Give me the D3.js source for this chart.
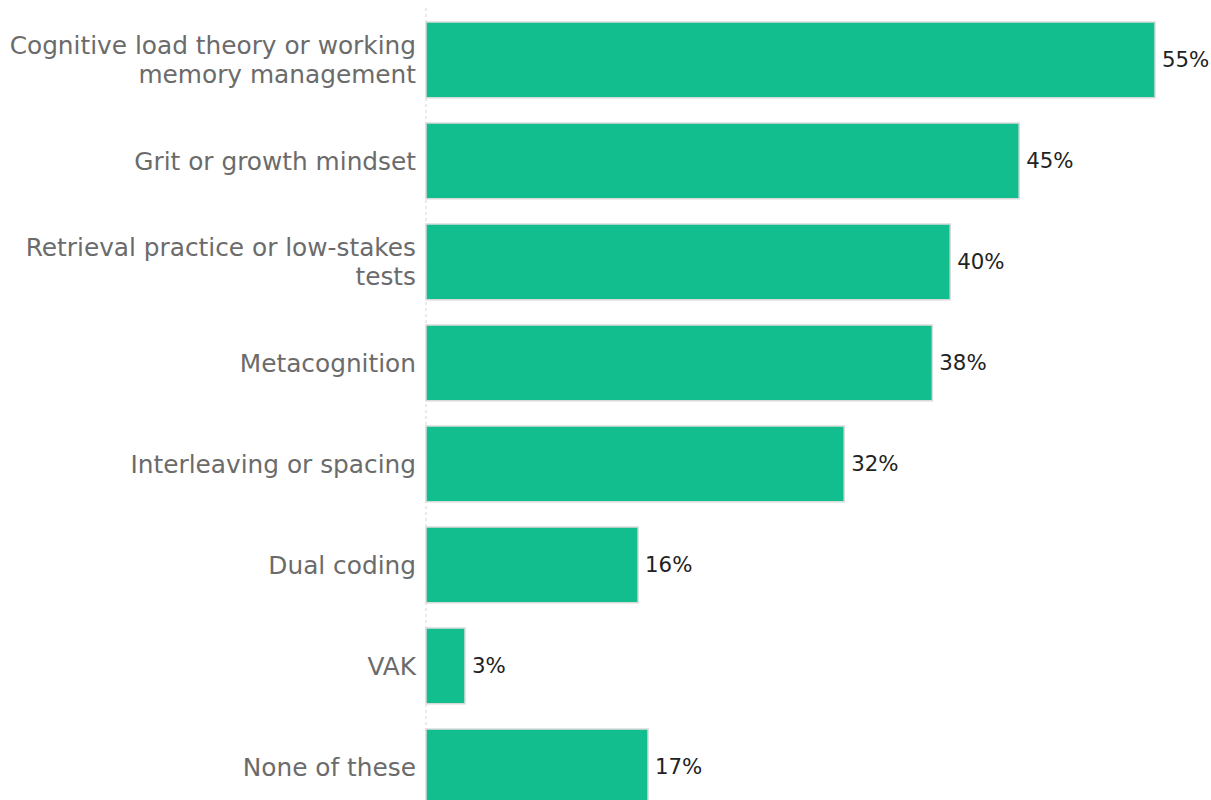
<!DOCTYPE html>
<html>
<head>
<meta charset="utf-8">
<script src="https://cdn.jsdelivr.net/npm/d3@7"></script>
<style>
  body { margin: 0; background: #fff; overflow: hidden; }
  text { font-family: "DejaVu Sans", sans-serif; }
</style>
</head>
<body>
<div id="chart"></div>
<script>
var categories = [
  ["Cognitive load theory or working", "memory management"],
  ["Grit or growth mindset"],
  ["Retrieval practice or low-stakes", "tests"],
  ["Metacognition"],
  ["Interleaving or spacing"],
  ["Dual coding"],
  ["VAK"],
  ["None of these"]
];
var values = [55.0, 44.75, 39.55, 38.2, 31.55, 16.0, 2.94, 16.75];

var w = 1211;
var h = 800;
var left = 426;

var svg = d3.select("#chart")
  .append("svg")
  .attr("width", w)
  .attr("height", h);

var data = categories.map(function(c, i) { return {label: c, key: c.join(" "), val: values[i]}; });

var xScale = d3.scaleLinear()
  .domain([0, 55])
  .range([left, 1155]);

var yScale = d3.scaleBand()
  .domain(data.map(function(d) { return d.key; }))
  .range([9.4, 9.4 + 808])
  .paddingInner(0.25)
  .paddingOuter(0.125);

// dashed baseline
svg.append("line")
  .attr("x1", left).attr("x2", left)
  .attr("y1", 8).attr("y2", h)
  .attr("stroke", "#d6d6d6")
  .attr("stroke-width", 1)
  .attr("stroke-dasharray", "3,3");

svg.selectAll("rect.bar")
  .data(data)
  .enter()
  .append("rect")
  .attr("class", "bar")
  .attr("x", xScale(0))
  .attr("y", function(d) { return yScale(d.key); })
  .attr("width", function(d) { return xScale(d.val) - xScale(0); })
  .attr("height", yScale.bandwidth())
  .attr("fill", "#12bd8e")
  .attr("stroke", "#dadada")
  .attr("stroke-width", 1.5);

// value labels
svg.selectAll("text.val")
  .data(data)
  .enter()
  .append("text")
  .attr("class", "val")
  .attr("x", function(d) { return xScale(d.val) + 7; })
  .attr("y", function(d) { return yScale(d.key) + yScale.bandwidth() / 2; })
  .attr("dy", "0.35em")
  .attr("font-size", 21.3)
  .attr("fill", "#222")
  .text(function(d) { return d3.format(".0%")(d.val / 100); });

// category labels
var labels = svg.selectAll("text.cat")
  .data(data)
  .enter()
  .append("text")
  .attr("class", "cat")
  .attr("text-anchor", "end")
  .attr("font-size", 24.8)
  .attr("fill", "#6b6b6b")
  .attr("y", function(d) { return yScale(d.key) + yScale.bandwidth() / 2; });

labels.selectAll("tspan")
  .data(function(d) { return d.label.map(function(t, i) { return {t: t, i: i, n: d.label.length}; }); })
  .enter()
  .append("tspan")
  .attr("x", left - 10)
  .attr("dy", function(d) {
    if (d.i == 0) return (0.35 - (d.n - 1) * 0.6) + "em";
    return "1.2em";
  })
  .text(function(d) { return d.t; });
</script>
</body>
</html>
